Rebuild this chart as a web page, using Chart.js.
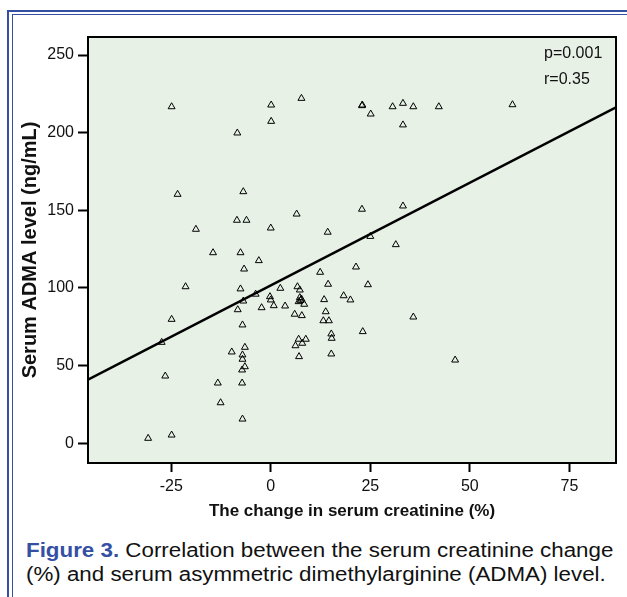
<!DOCTYPE html>
<html>
<head>
<meta charset="utf-8">
<script src="https://cdn.jsdelivr.net/npm/chart.js@4"></script>
<style>
    body { margin: 0; background: #fff; width: 627px; height: 597px; overflow: hidden; position: relative; font-family: "Liberation Sans", Arial, sans-serif; }
    .frameOuter { position: absolute; left: 7px; top: 10px; width: 640px; height: 600px; border-left: 2px solid #3550a3; border-top: 2px solid #3550a3; }
    .frameInner { position: absolute; left: 12px; top: 14px; width: 640px; height: 600px; border-left: 1px solid #3550a3; border-top: 1px solid #3550a3; }
    #scatterChart { position: absolute; left: 0; top: 0; }
    .caption { position: absolute; left: 26px; top: 538px; font-size: 20px; line-height: 24px; color: #111; white-space: nowrap; transform: scaleX(1.117); transform-origin: left top; }
    .caption b { color: #3550a3; }
</style>
</head>
<body>
<div class="frameOuter"></div>
<div class="frameInner"></div>
<canvas id="scatterChart" width="627" height="530"></canvas>
<div class="caption"><b>Figure 3.</b> Correlation between the serum creatinine change<br>(%) and serum asymmetric dimethylarginine (ADMA) level.</div>

<script>
// change in serum creatinine (%)
const creatChange = [
    -24.9, 0.1, 7.7, 0.1, -8.4, -23.4, -6.9, 6.5, -8.5, -6.1, -18.8, 0, 14.3,
    22.9, 23.0, 25.1, 30.6, 33.2, 35.8, 42.2, 60.7, 33.2, 22.9, 33.2, 25, 31.4,
    21.4, 24.4, 18.3, 20, 35.8, 23.1, 46.3,
    -14.5, -7.6, -3, -6.7, 12.4, -21.4, -7.6, 2.4, 6.7, 7.3, 14.4, -3.8, -6.9,
    -0.2, 0, 0.75, 3.6, -2.3, 7.3, 7.7, 7, 8.4, 7.5, 13.4, -8.3, 6, 7.8, 13.8,
    13.2, 14.6, -24.9, -27.4, -7.1, 15.2, 15.3, 7, 8.8, 6.2, 7.9, 7.1, 15.2,
    -9.8, -6.5, -7.1, -7.1, -6.5, -7.2, -26.5, -13.3, -7.2, -12.6, -7.1, -30.8, -24.9
];
// serum ADMA (ng/mL)
const admaLevel = [
    216.7, 217.8, 222.1, 207.3, 199.8, 160.3, 162, 147.6, 143.6, 143.6, 137.8, 138.6, 135.9,
    217.4, 217.8, 212, 216.7, 218.9, 216.7, 216.7, 218, 205, 150.7, 152.8, 133.2, 127.9,
    113.5, 102.1, 95, 92.3, 81.3, 71.9, 53.6,
    122.7, 122.7, 117.6, 112.2, 110.1, 100.8, 99.4, 99.8, 100.8, 98.7, 102.4, 96, 91.6,
    94.4, 92.3, 88.6, 88.4, 87.3, 93.8, 92.9, 91.2, 89.5, 92.0, 92.5, 86, 83.1, 82.2, 84.7,
    78.9, 78.9, 79.8, 65, 76.2, 70.4, 67.6, 67, 67, 62.8, 64.4, 55.8, 57.5,
    58.8, 61.8, 56.9, 54.1, 49.3, 47.2, 43.3, 38.8, 38.8, 26.1, 15.6, 3.2, 5.3
];
// fit line (ends at the plot edges)
const fitX = [-45.9, 86.7];
const fitY = [41, 216.3];

const xTicks = [-25, 0, 25, 50, 75];
const yTicks = [0, 50, 100, 150, 200, 250];
const statsText = ['p=0.001', 'r=0.35'];

const points = creatChange.map((x, i) => ({ x: x, y: admaLevel[i] }));
const fitLine = fitX.map((x, i) => ({ x: x, y: fitY[i] }));

const plotBox = {
    id: 'plotBox',
    beforeDatasetsDraw(chart) {
        const { ctx, chartArea: a } = chart;
        ctx.save();
        ctx.fillStyle = '#e7f1e6';
        ctx.fillRect(a.left, a.top, a.right - a.left, a.bottom - a.top);
        ctx.restore();
    },
    afterDraw(chart) {
        const { ctx, chartArea: a } = chart;
        ctx.save();
        ctx.strokeStyle = '#000';
        ctx.lineWidth = 2;
        ctx.strokeRect(a.left, a.top, a.right - a.left, a.bottom - a.top);
        ctx.fillStyle = '#111';
        ctx.font = '16px "Liberation Sans", Arial, sans-serif';
        ctx.textBaseline = 'middle';
        ctx.fillText(statsText[0], a.right - 72, a.top + 17);
        ctx.fillText(statsText[1], a.right - 72, a.top + 43);
        ctx.restore();
    }
};

const ctx = document.getElementById('scatterChart').getContext('2d');

const myChart = new Chart(ctx, {
    type: 'scatter',
    data: {
        datasets: [{
            data: points,
            pointStyle: 'triangle',
            pointRadius: 4,
            pointBorderColor: '#000',
            pointBorderWidth: 1,
            pointBackgroundColor: 'rgba(0,0,0,0)',
            order: 2
        }, {
            type: 'line',
            data: fitLine,
            borderColor: '#000',
            borderWidth: 2.5,
            pointRadius: 0,
            fill: false,
            order: 1
        }]
    },
    plugins: [plotBox],
    options: {
        responsive: false,
        animation: false,
        devicePixelRatio: 1,
        layout: {
            padding: { left: 18, top: 37, right: 11, bottom: 0 }
        },
        scales: {
            x: {
                type: 'linear',
                min: -45.9,
                max: 86.7,
                afterBuildTicks: (s) => { s.ticks = xTicks.map(v => ({ value: v })); },
                afterFit: (s) => { s.height = 67; },
                grid: { drawOnChartArea: false, drawTicks: true, tickLength: 9, tickWidth: 2, tickColor: '#000' },
                border: { display: false },
                ticks: { color: '#111', padding: 5, font: { size: 16, family: '"Liberation Sans", Arial, sans-serif' } },
                title: {
                    display: true,
                    text: 'The change in serum creatinine (%)',
                    color: '#111',
                    padding: { top: 4, bottom: 8 },
                    font: { size: 17, weight: 'bold', family: '"Liberation Sans", Arial, sans-serif' }
                }
            },
            y: {
                type: 'linear',
                min: -12.7,
                max: 261.6,
                afterBuildTicks: (s) => { s.ticks = yTicks.map(v => ({ value: v })); },
                afterFit: (s) => { s.width = 70; },
                grid: { drawOnChartArea: false, drawTicks: true, tickLength: 10, tickWidth: 2, tickColor: '#000' },
                border: { display: false },
                ticks: { color: '#111', padding: 4, font: { size: 16, family: '"Liberation Sans", Arial, sans-serif' } },
                title: {
                    display: true,
                    text: 'Serum ADMA level (ng/mL)',
                    color: '#111',
                    padding: { top: 0, bottom: 4 },
                    font: { size: 20, weight: 'bold', family: '"Liberation Sans", Arial, sans-serif' }
                }
            }
        },
        plugins: {
            legend: { display: false },
            tooltip: { enabled: false }
        }
    }
});
</script>
</body>
</html>
